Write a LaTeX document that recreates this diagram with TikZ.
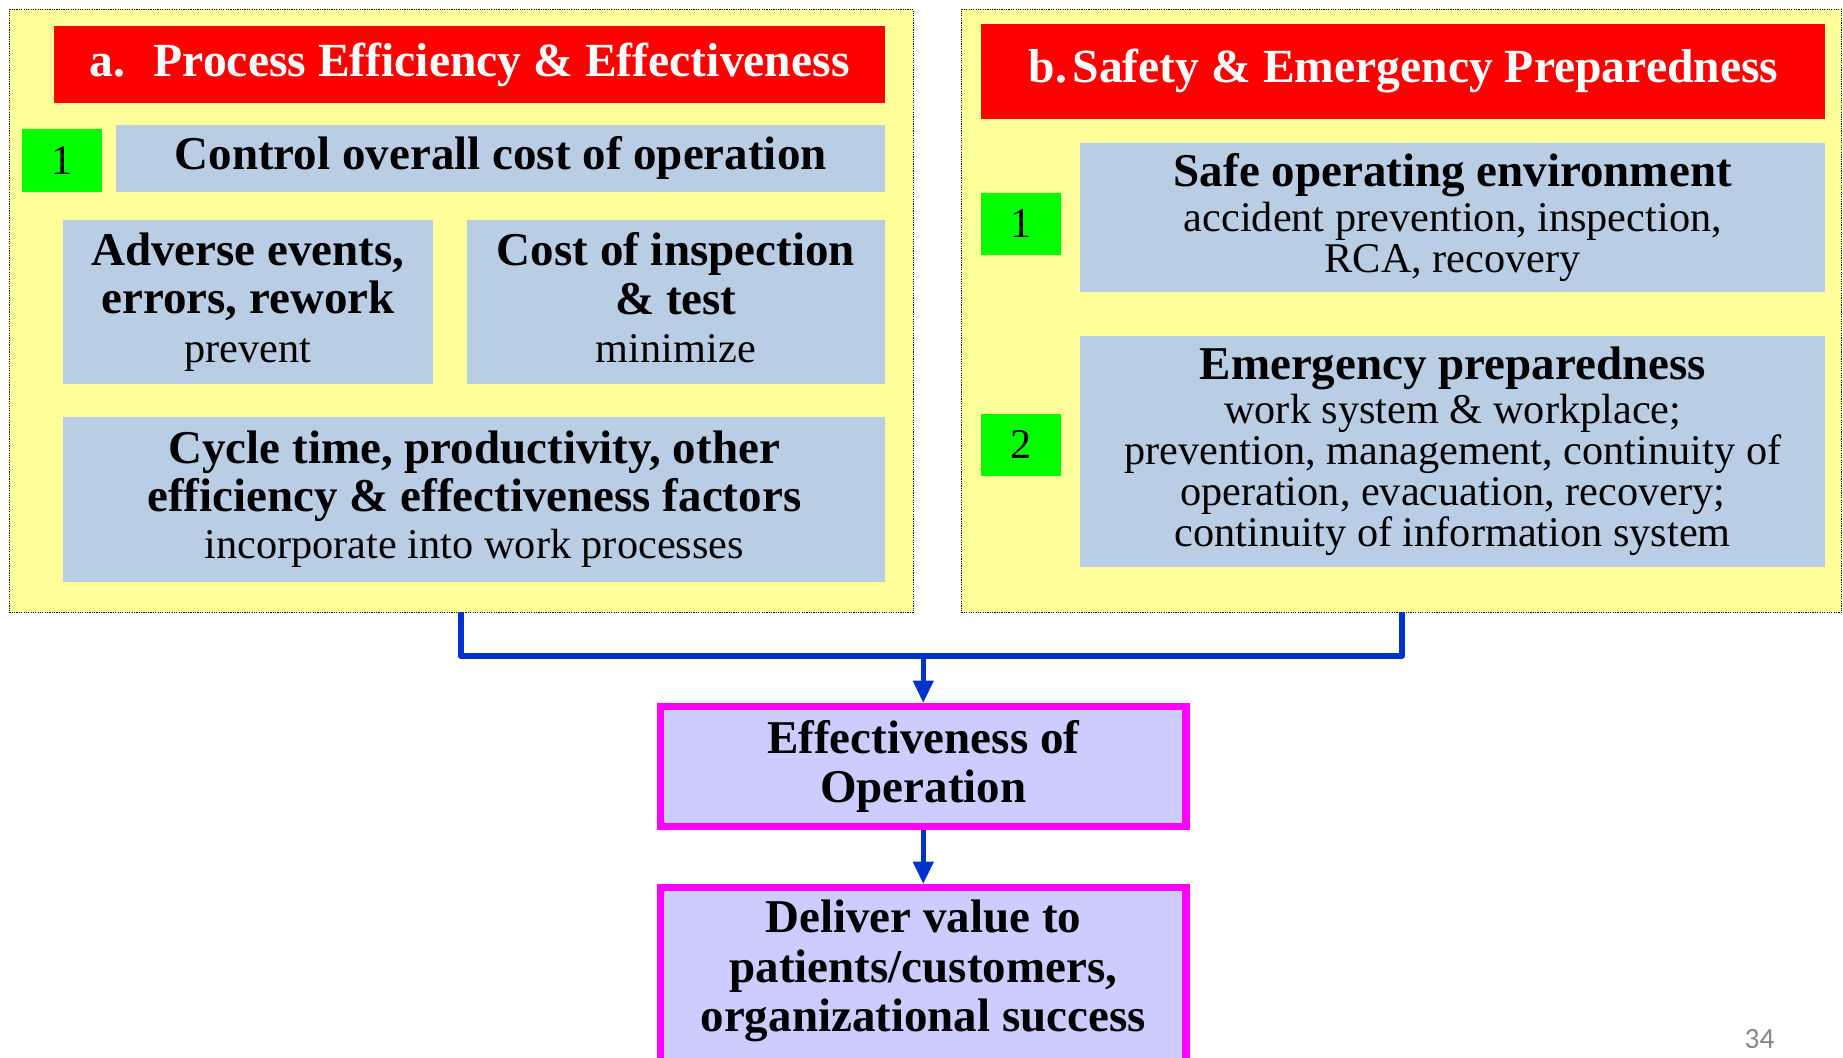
\documentclass[tikz,border=0pt]{standalone}
\usepackage{fontspec}
\setmainfont{Liberation Serif}
\newfontfamily\pagenumfont{Carlito}
\usetikzlibrary{arrows.meta}
\definecolor{panelyellow}{RGB}{255,255,153}
\definecolor{itemblue}{RGB}{185,205,229}
\definecolor{headred}{RGB}{255,0,0}
\definecolor{numgreen}{RGB}{0,255,0}
\definecolor{lavender}{RGB}{204,204,255}
\definecolor{borderpink}{RGB}{255,0,255}
\definecolor{connblue}{RGB}{0,51,204}
\newcommand{\rg}[1]{{\fontsize{36}{35}\selectfont\mdseries #1}}
\begin{document}
\begin{tikzpicture}[x=1pt,y=-1pt,
  panel/.style={fill=panelyellow,draw=black,densely dotted,line width=1pt},
  header/.style={fill=headred,text=white,inner sep=0pt,outer sep=0pt,align=center,
    font=\fontsize{40.5}{41}\selectfont\bfseries},
  itembox/.style={fill=itemblue,inner sep=0pt,outer sep=0pt,align=center,
    font=\fontsize{40}{41}\selectfont\bfseries},
  numbox/.style={fill=numgreen,inner sep=0pt,outer sep=0pt,minimum width=68pt,minimum height=53pt,
    font=\fontsize{36}{36}\selectfont},
  resultbox/.style={fill=lavender,draw=borderpink,line width=6pt,inner sep=0pt,outer sep=3pt,
    align=center,font=\fontsize{40}{42}\selectfont\bfseries},
  conn/.style={draw=connblue,line width=5pt,line join=round},
  arrowconn/.style={draw=connblue,line width=4pt,-{Triangle[length=19pt,width=17pt]}}
]
\useasboundingbox (0,0) rectangle (1568,900);
\clip (0,0) rectangle (1568,900);
\fill[white] (0,0) rectangle (1568,900);

% panels
\node[panel,minimum width=769pt,minimum height=513pt,inner sep=0pt,outer sep=0pt] (lpanel) at (392.5,264.5) {};
\node[panel,minimum width=749pt,minimum height=513pt,inner sep=0pt,outer sep=0pt] (rpanel) at (1192.5,264.5) {};

% left panel
\node[header,minimum width=707pt,minimum height=66pt] (ha) at (399.5,55) {\raisebox{2pt}{a.\hspace{0.6em}Process Efficiency \& Effectiveness}};
\node[numbox] (na1) at (53,136.5) {1};
\node[itembox,minimum width=654pt,minimum height=57pt] (ctrl) at (426,134.5) {Control overall cost of operation};
\node[itembox,minimum width=314pt,minimum height=140pt] (adv) at (211,257) {Adverse events,\\errors, rework\\\rg{prevent}};
\node[itembox,minimum width=356pt,minimum height=140pt] (insp) at (575,257) {Cost of inspection\\\& test\\\rg{minimize\vphantom{p}}};
\node[itembox,minimum width=699pt,minimum height=140pt] (cyc) at (403.5,425) {Cycle time, productivity, other\\efficiency \& effectiveness factors\\[-1pt]\rg{incorporate into work processes}};

% right panel
\node[header,minimum width=718pt,minimum height=81pt] (hb) at (1194,60.5) {\raisebox{2pt}{b.\hspace{0.12em}Safety \& Emergency Preparedness}};
\node[numbox] (nb1) at (869,190.5) {1};
\node[itembox,minimum width=634pt,minimum height=126pt] (safe) at (1236,185) {Safe operating environment\\[-3pt]\rg{accident prevention, inspection,}\\[-6pt]\rg{RCA, recovery}};
\node[numbox] (nb2) at (869,378.5) {2};
\node[itembox,minimum width=634pt,minimum height=196pt] (emer) at (1236,384) {Emergency preparedness\\[-4pt]\rg{work system \& workplace;}\\[-6pt]\rg{prevention, management, continuity of}\\[-6pt]\rg{operation, evacuation, recovery;}\\[-6pt]\rg{continuity of information system}};

% results
\node[resultbox,minimum width=447pt,minimum height=102pt] (eff) at (785.5,652) {Effectiveness of\\Operation};
\node[resultbox,minimum width=447pt,minimum height=170pt] (dv) at (785.5,840) {};
\node[inner sep=0pt,align=center,font=\fontsize{40}{42}\selectfont\bfseries] (dvt) at (785.5,826) {Deliver value to\\patients/customers,\\organizational success};

% connectors
\coordinate (jl) at (392,0);
\coordinate (jr) at (1193,0);
\coordinate (bar) at (0,558);
\draw[conn] (lpanel.south -| jl) -- (jl |- bar) -- (jr |- bar) -- (rpanel.south -| jr);
\draw[arrowconn] (eff.north |- bar) -- (eff.north);
\draw[arrowconn] (eff.south) -- (dv.north);

% page number
\node[text=black!47,font=\pagenumfont\fontsize{25}{25}\selectfont,inner sep=0pt] (pnum) at (1497,884) {34};
\end{tikzpicture}
\end{document}
